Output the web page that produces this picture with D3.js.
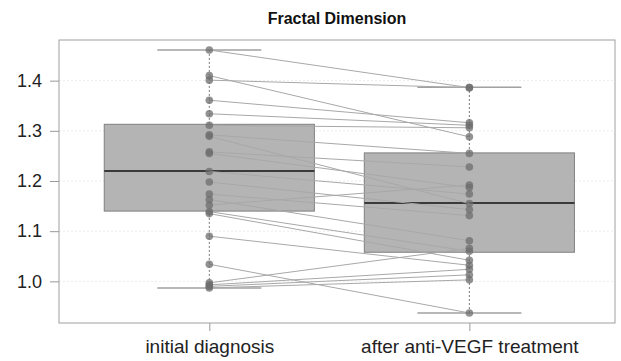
<!DOCTYPE html>
<html lang="en">
<head>
<meta charset="UTF-8">
<title>Fractal Dimension</title>
<script src="https://d3js.org/d3.v7.min.js"></script>
<style>
    body { margin: 0; background: white; }
    svg { display: block; font-family: "Liberation Sans", Arial, sans-serif; }
</style>
</head>
<body>
<svg id="chart" width="621" height="361"></svg>
<script>
    // Data
    const groups = ["initial diagnosis", "after anti-VEGF treatment"];
    const yTicks = [1.0, 1.1, 1.2, 1.3, 1.4];

    // paired values: before[i] -> after[i]
    const before = [1.461, 1.401, 1.410, 1.361, 1.334, 1.311, 1.292, 1.289, 1.258, 1.255, 1.219, 1.198,
                    1.174, 1.163, 1.152, 1.139, 1.135, 1.090, 1.034, 0.997, 0.993, 0.990, 0.987];
    const after  = [1.386, 1.386, 1.288, 1.316, 1.311, 1.306, 1.255, 1.155, 1.228, 1.187, 1.174, 1.143,
                    1.131, 1.081, 1.192, 1.060, 1.042, 1.032, 0.937, 1.066, 1.024, 1.013, 1.003];

    // box stats per group: [lower whisker, q1, median, q3, upper whisker]
    const boxBefore = [0.987, 1.140, 1.220, 1.313, 1.461];
    const boxAfter  = [0.937, 1.058, 1.156, 1.256, 1.387];

    const margin = { top: 40, right: 6, bottom: 38, left: 59 };
    const width = 621 - margin.left - margin.right;
    const height = 361 - margin.top - margin.bottom;

    const svg = d3.select("#chart");
    const g = svg.append("g").attr("transform", "translate(" + margin.left + "," + margin.top + ")");

    const x = d3.scaleLinear().domain([0.422, 2.56]).range([0, width]);
    const y = d3.scaleLinear().domain([0.917, 1.481]).range([height, 0]);

    // grid
    g.append("g").selectAll("line")
        .data(yTicks)
        .join("line")
        .attr("x1", 0).attr("x2", width)
        .attr("y1", d => y(d)).attr("y2", d => y(d))
        .attr("stroke", "#ececec")
        .attr("stroke-dasharray", "2,2");

    // boxes
    const boxW = 0.808, capW = 0.4;
    const boxes = [boxBefore, boxAfter];
    boxes.forEach((b, i) => {
        const cx = i + 1;
        // whisker (dotted)
        g.append("line")
            .attr("x1", x(cx)).attr("x2", x(cx))
            .attr("y1", y(b[0])).attr("y2", y(b[4]))
            .attr("stroke", "#777").attr("stroke-dasharray", "2,2");
        // caps
        [b[0], b[4]].forEach(v => {
            g.append("line")
                .attr("x1", x(cx - capW / 2)).attr("x2", x(cx + capW / 2))
                .attr("y1", y(v)).attr("y2", y(v))
                .attr("stroke", "#a0a0a0").attr("stroke-width", 1.5);
        });
        g.append("rect")
            .attr("x", x(cx - boxW / 2))
            .attr("y", y(b[3]))
            .attr("width", x(cx + boxW / 2) - x(cx - boxW / 2))
            .attr("height", y(b[1]) - y(b[3]))
            .attr("fill", "#b4b4b4")
            .attr("stroke", "#808080");
        g.append("line")
            .attr("x1", x(cx - boxW / 2)).attr("x2", x(cx + boxW / 2))
            .attr("y1", y(b[2])).attr("y2", y(b[2]))
            .attr("stroke", "#3a3a3a").attr("stroke-width", 2);
    });

    // paired lines
    g.append("g").selectAll("line")
        .data(before.map((v, i) => [v, after[i]]))
        .join("line")
        .attr("x1", x(1)).attr("x2", x(2))
        .attr("y1", d => y(d[0])).attr("y2", d => y(d[1]))
        .attr("stroke", "#a8a8a8").attr("stroke-width", 1);

    // points
    const pts = before.map(v => [1, v]).concat(after.map(v => [2, v]));
    g.append("g").selectAll("circle")
        .data(pts)
        .join("circle")
        .attr("cx", d => x(d[0])).attr("cy", d => y(d[1]))
        .attr("r", 3.8)
        .attr("fill", "#6e6e6e")
        .attr("fill-opacity", 0.75);

    // frame
    g.append("rect")
        .attr("width", width).attr("height", height)
        .attr("fill", "none").attr("stroke", "#a0a0a0");

    // y axis
    const yAxis = g.append("g")
        .call(d3.axisLeft(y).tickValues(yTicks).tickFormat(d3.format(".1f")).tickSize(9).tickPadding(8));
    yAxis.select(".domain").remove();
    yAxis.selectAll("line").attr("stroke", "#999");
    yAxis.selectAll("text").attr("font-size", 18).attr("fill", "#222");

    // x axis
    const xAxis = g.append("g")
        .attr("transform", "translate(0," + height + ")")
        .call(d3.axisBottom(x).tickValues([1, 2]).tickFormat((d, i) => groups[i]).tickSize(8).tickPadding(9));
    xAxis.select(".domain").remove();
    xAxis.selectAll("line").attr("stroke", "#999");
    xAxis.selectAll("text").attr("font-size", 19).attr("fill", "#222");

    // title
    svg.append("text")
        .attr("x", margin.left + width / 2)
        .attr("y", 24)
        .attr("text-anchor", "middle")
        .attr("font-size", 16)
        .attr("font-weight", "bold")
        .attr("fill", "#111")
        .text("Fractal Dimension");
</script>
</body>
</html>
